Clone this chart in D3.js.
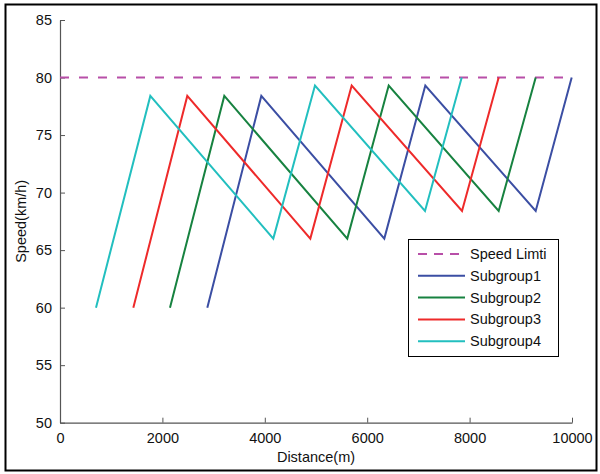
<!DOCTYPE html>
<html>
<head>
<meta charset="utf-8">
<script src="https://cdn.jsdelivr.net/npm/d3@7"></script>
<style>
  body { margin: 0; background: #fff; }
  svg { display: block; font-family: "Liberation Sans", Arial, sans-serif; }
</style>
</head>
<body>
<div id="chart"></div>
<script>
// Data: distance (m) / speed (km/h) turning points
const subgroup1 = [[2877, 60], [3932, 78.4], [6334, 66.0], [7135, 79.3], [9291, 68.4], [9994, 80]];
const subgroup2 = [[2148, 60], [3209, 78.4], [5611, 66.0], [6420, 79.3], [8568, 68.4], [9291, 80]];
const subgroup3 = [[1432, 60], [2486, 78.4], [4889, 66.0], [5697, 79.3], [7852, 68.4], [8568, 80]];
const subgroup4 = [[703, 60], [1764, 78.4], [4166, 66.0], [4980, 79.3], [7129, 68.4], [7846, 80]];
const speedLimit = [[0, 80], [10000, 80]];
const seriesNames = ['Speed Limti', 'Subgroup1', 'Subgroup2', 'Subgroup3', 'Subgroup4'];
const xTicks = [0, 2000, 4000, 6000, 8000, 10000];
const yTicks = [50, 55, 60, 65, 70, 75, 80, 85];

const colors = ['#b84fa8', '#3b4ea3', '#178240', '#ee2a2a', '#22bfbf'];

const W = 600, H = 474;
const margin = { top: 20, right: 28, bottom: 51.3, left: 60 };
const width = W - margin.left - margin.right;
const height = H - margin.top - margin.bottom;

const svg = d3.select('#chart').append('svg')
    .attr('width', W)
    .attr('height', H);

// outer frame
svg.append('rect')
    .attr('x', 5.5).attr('y', 4.5)
    .attr('width', 591).attr('height', 466)
    .attr('fill', 'none')
    .attr('stroke', '#000')
    .attr('stroke-width', 2);

const g = svg.append('g')
    .attr('transform', `translate(${margin.left},${margin.top})`);

const x = d3.scaleLinear().domain([0, 10000]).range([0, width]);
const y = d3.scaleLinear().domain([50, 85]).range([height, 0]);

// axes, ticks pointing inward
const xAxis = d3.axisBottom(x).tickValues(xTicks).tickFormat(d3.format('d'))
    .tickSizeInner(-5).tickSizeOuter(0).tickPadding(10);
const yAxis = d3.axisLeft(y).tickValues(yTicks).tickFormat(d3.format('d'))
    .tickSizeInner(-5).tickSizeOuter(0).tickPadding(8);

const gx = g.append('g')
    .attr('transform', `translate(0,${height})`)
    .call(xAxis);
const gy = g.append('g').call(yAxis);

[gx, gy].forEach(a => {
    a.select('.domain').attr('stroke', '#555').attr('stroke-width', 1.2);
    a.selectAll('.tick line').attr('stroke', '#555').attr('stroke-width', 1);
    a.selectAll('.tick text').attr('fill', '#111').style('font-size', '14.5px');
});

g.append('text')
    .attr('x', width / 2)
    .attr('y', height + 39)
    .attr('text-anchor', 'middle')
    .style('font-size', '14.5px')
    .attr('fill', '#111')
    .text('Distance(m)');

g.append('text')
    .attr('transform', `translate(-34,${height / 2}) rotate(-90)`)
    .attr('text-anchor', 'middle')
    .style('font-size', '14.5px')
    .attr('fill', '#111')
    .text('Speed(km/h)');

const line = d3.line().x(d => x(d[0])).y(d => y(d[1]));

const series = [speedLimit, subgroup1, subgroup2, subgroup3, subgroup4];

series.forEach((s, i) => {
    g.append('path')
        .datum(s)
        .attr('d', line)
        .attr('fill', 'none')
        .attr('stroke', colors[i])
        .attr('stroke-width', 2)
        .attr('stroke-dasharray', i === 0 ? '9,10' : null);
});

// legend
const legend = svg.append('g').attr('transform', 'translate(408,239)');
legend.append('rect')
    .attr('x', 0.5).attr('y', 0.5)
    .attr('width', 150).attr('height', 117)
    .attr('fill', '#fff')
    .attr('stroke', '#000')
    .attr('stroke-width', 1);

seriesNames.forEach((name, i) => {
    const ly = 15 + i * 21.8;
    legend.append('line')
        .attr('x1', 10).attr('x2', 57)
        .attr('y1', ly).attr('y2', ly)
        .attr('stroke', colors[i])
        .attr('stroke-width', 2)
        .attr('stroke-dasharray', i === 0 ? '9,7' : null);
    legend.append('text')
        .attr('x', 62)
        .attr('y', ly)
        .attr('dy', '0.35em')
        .style('font-size', '14.5px')
        .attr('fill', '#111')
        .text(name);
});
</script>
</body>
</html>
